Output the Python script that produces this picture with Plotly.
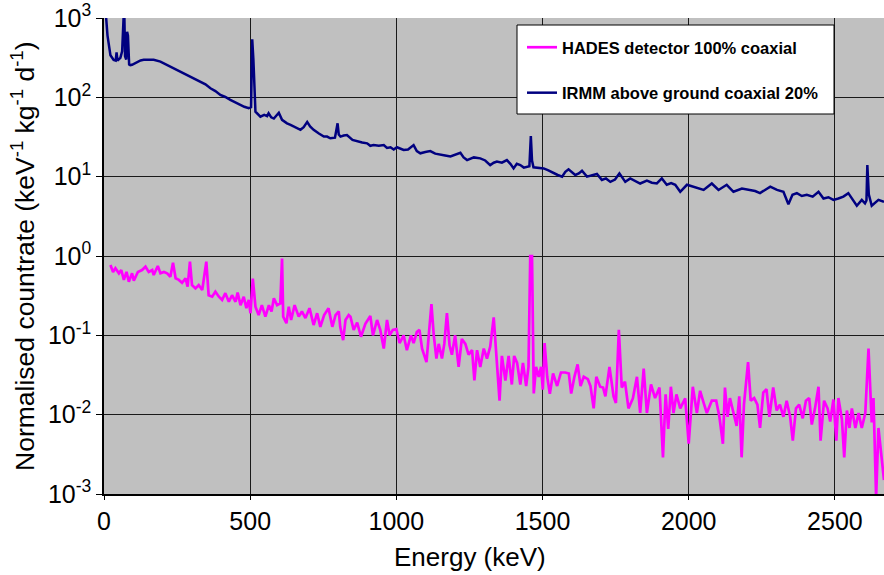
import plotly.graph_objects as go

# ---------------- data ----------------
irmm_energy = [5, 12, 22, 33, 40, 43, 46, 56, 62, 66, 69, 72, 76, 79, 82, 86, 90, 96,
               110, 125, 136, 150, 170, 193, 210, 227, 245, 262, 280, 296, 313, 330,
               347, 364, 381, 398, 415, 432, 450, 467, 480, 495, 503, 507, 511, 518,
               535, 548, 558, 563, 572, 581, 590, 598, 609, 626, 638, 649, 660, 672,
               683, 695, 705, 717, 735, 752, 763, 774, 790, 799, 803, 809, 820, 831,
               850, 866, 883, 900, 911, 922, 940, 957, 968, 980, 991, 1002, 1013,
               1025, 1040, 1059, 1070, 1082, 1099, 1116, 1133, 1150, 1167, 1185,
               1202, 1219, 1230, 1242, 1265, 1287, 1304, 1321, 1333, 1344, 1361,
               1378, 1390, 1401, 1412, 1424, 1436, 1447, 1455, 1460, 1464, 1469,
               1486, 1504, 1520, 1538, 1552, 1567, 1578, 1589, 1600, 1612, 1624,
               1635, 1652, 1669, 1686, 1703, 1717, 1732, 1748, 1763, 1783, 1800,
               1817, 1834, 1857, 1874, 1891, 1908, 1925, 1940, 1954, 1971, 1994,
               2016, 2033, 2051, 2079, 2102, 2130, 2153, 2182, 2210, 2227, 2244,
               2279, 2302, 2324, 2341, 2355, 2370, 2387, 2404, 2424, 2444, 2461,
               2478, 2495, 2512, 2529, 2546, 2575, 2592, 2603, 2608, 2611, 2616,
               2626, 2649, 2668]
irmm_rate = [1300, 600, 340, 296, 290, 370, 290, 315, 380, 1500, 1500, 330, 300, 670,
             600, 260, 255, 257, 275, 292, 297, 298, 297, 282, 262, 244, 228, 211,
             195, 182, 170, 158, 146, 130, 120, 107, 101, 93, 86, 80, 76, 73, 75,
             540, 300, 66, 57, 60, 58, 63, 56, 54, 60, 64, 52, 47, 45, 43, 41, 39,
             42, 49, 43, 39, 35, 32, 32, 30.5, 31, 47, 34, 32, 33, 33.5, 29, 27.7,
             27, 26.3, 24.5, 25, 24.5, 25, 23, 23.5, 22, 23.5, 22.5, 21.7, 22, 25,
             21, 19.7, 20.5, 21, 19.5, 18.8, 18.5, 18, 19, 20, 17.5, 16.2, 17.5,
             17, 16, 14, 15, 15.5, 15, 16.2, 14.5, 12.7, 14.5, 14, 13, 13.4, 13.5,
             32.6, 16, 13.1, 13, 12.7, 12, 11, 10.5, 10, 11.5, 12.4, 11.5, 10.5,
             11, 11.9, 10, 10.5, 10.8, 9.1, 9.5, 8.6, 9.2, 11, 8.6, 9.5, 8.8, 8.2,
             8.9, 8.4, 8.2, 9.5, 7.9, 8.3, 7.9, 6.45, 7.9, 7.5, 7.2, 6.8, 8.2, 6.8,
             7.9, 6.45, 7.1, 6.8, 6.6, 6.2, 7.5, 6.8, 6.45, 4.5, 5.9, 6.2, 5.7,
             5.9, 5.6, 6.45, 5.3, 5.5, 5.1, 5.3, 5.6, 6.2, 4.3, 5.1, 4.6, 5, 14,
             6, 4.3, 5.1, 4.8]

hades_energy = [22, 31, 39, 51, 59, 68, 77, 85, 96, 102, 116, 130, 142, 153, 165, 170,
                184, 193, 205, 216, 227, 236, 245, 256, 267, 279, 286, 294, 301, 313,
                324, 336, 350, 358, 370, 381, 393, 404, 415, 427, 438, 450, 457, 467,
                478, 487, 495, 501, 509, 518, 529, 540, 552, 564, 573, 581, 592, 603,
                609, 613, 624, 632, 640, 652, 666, 677, 689, 703, 717, 729, 740, 753,
                768, 781, 792, 803, 808, 818, 826, 837, 843, 854, 866, 879, 894, 911,
                920, 934, 945, 957, 968, 977, 988, 1000, 1011, 1025, 1036, 1050, 1059,
                1070, 1079, 1088, 1103, 1111, 1120, 1128, 1137, 1145, 1156, 1164,
                1173, 1182, 1190, 1201, 1213, 1224, 1236, 1247, 1259, 1267, 1276,
                1287, 1299, 1310, 1321, 1333, 1342, 1353, 1361, 1373, 1384, 1395,
                1403, 1413, 1424, 1433, 1444, 1452, 1458, 1464, 1470, 1478, 1487,
                1495, 1501, 1507, 1516, 1525, 1536, 1550, 1563, 1578, 1590, 1598,
                1609, 1620, 1630, 1641, 1655, 1664, 1675, 1684, 1697, 1707, 1715,
                1729, 1743, 1751, 1761, 1771, 1782, 1794, 1809, 1823, 1834, 1846,
                1857, 1871, 1885, 1900, 1912, 1921, 1930, 1939, 1948, 1958, 1971,
                1988, 2000, 2014, 2028, 2039, 2053, 2062, 2079, 2094, 2105, 2117,
                2124, 2133, 2141, 2153, 2164, 2173, 2181, 2189, 2203, 2212, 2224,
                2235, 2244, 2255, 2266, 2276, 2289, 2301, 2312, 2324, 2335, 2347,
                2356, 2367, 2378, 2390, 2401, 2412, 2421, 2432, 2444, 2451, 2463,
                2475, 2484, 2495, 2505, 2512, 2524, 2532, 2541, 2550, 2558, 2570,
                2581, 2592, 2604, 2615, 2626, 2632, 2641, 2649, 2661, 2668]
hades_rate = [0.77, 0.63, 0.70, 0.605, 0.666, 0.50, 0.63, 0.475, 0.605, 0.49, 0.63,
              0.666, 0.733, 0.63, 0.666, 0.576, 0.748, 0.605, 0.63, 0.605, 0.548,
              0.82, 0.523, 0.50, 0.46, 0.523, 0.41, 0.85, 0.43, 0.39, 0.43, 0.373,
              0.85, 0.32, 0.307, 0.355, 0.307, 0.279, 0.34, 0.265, 0.32, 0.265,
              0.345, 0.24, 0.307, 0.22, 0.28, 0.19, 0.52, 0.23, 0.18, 0.24, 0.172,
              0.24, 0.2, 0.293, 0.24, 0.253, 0.93, 0.172, 0.142, 0.23, 0.156, 0.24,
              0.172, 0.2, 0.165, 0.22, 0.135, 0.19, 0.128, 0.18, 0.22, 0.128, 0.18,
              0.2, 0.128, 0.087, 0.156, 0.18, 0.172, 0.117, 0.145, 0.096, 0.14,
              0.175, 0.1, 0.156, 0.117, 0.068, 0.156, 0.1, 0.117, 0.12, 0.08, 0.1,
              0.065, 0.1, 0.08, 0.11, 0.117, 0.068, 0.046, 0.11, 0.248, 0.1, 0.051,
              0.078, 0.051, 0.078, 0.19, 0.075, 0.057, 0.1, 0.04, 0.09, 0.078,
              0.057, 0.065, 0.027, 0.065, 0.04, 0.068, 0.051, 0.072, 0.168, 0.057,
              0.015, 0.055, 0.027, 0.055, 0.024, 0.055, 0.045, 0.024, 0.045, 0.023,
              0.04, 1.0, 1.0, 0.0185, 0.04, 0.03, 0.04, 0.0206, 0.08, 0.03, 0.0183,
              0.033, 0.023, 0.034, 0.034, 0.033, 0.0185, 0.03, 0.043, 0.023, 0.03,
              0.028, 0.023, 0.012, 0.03, 0.0225, 0.022, 0.017, 0.04, 0.017, 0.014,
              0.117, 0.022, 0.026, 0.012, 0.016, 0.030, 0.0105, 0.038, 0.0105,
              0.024, 0.0162, 0.022, 0.0029, 0.018, 0.0066, 0.0225, 0.0105, 0.018,
              0.012, 0.016, 0.0043, 0.0225, 0.0105, 0.02, 0.0134, 0.0105, 0.015,
              0.015, 0.0094, 0.0043, 0.022, 0.0094, 0.0162, 0.0105, 0.0072, 0.017,
              0.0029, 0.0134, 0.046, 0.015, 0.0162, 0.0134, 0.0068, 0.019, 0.021,
              0.0094, 0.022, 0.0113, 0.0134, 0.0094, 0.015, 0.0094, 0.0047, 0.012,
              0.0134, 0.009, 0.015, 0.0162, 0.0075, 0.012, 0.0225, 0.0047, 0.015,
              0.012, 0.0082, 0.0155, 0.0047, 0.0162, 0.0087, 0.0029, 0.0113,
              0.0068, 0.012, 0.0068, 0.0105, 0.0068, 0.0105, 0.068, 0.008, 0.0162,
              0.0009, 0.0068, 0.0029, 0.0015]

x_ticks = [0, 500, 1000, 1500, 2000, 2500]
y_ticks = [1e-3, 1e-2, 1e-1, 1e0, 1e1, 1e2, 1e3]
y_ticktext = ["10<sup>-3</sup>", "10<sup>-2</sup>", "10<sup>-1</sup>", "10<sup>0</sup>",
              "10<sup>1</sup>", "10<sup>2</sup>", "10<sup>3</sup>"]

FONT = "Liberation Sans, Arial, sans-serif"

fig = go.Figure()
fig.add_trace(go.Scatter(x=hades_energy, y=hades_rate, mode="lines",
                         name="HADES detector 100% coaxial", legendgroup="a",
                         line=dict(color="#FF00FF", width=2.7)))
fig.add_trace(go.Scatter(x=irmm_energy, y=irmm_rate, mode="lines",
                         name="IRMM above ground coaxial 20%", legendgroup="b",
                         line=dict(color="#000080", width=2.5)))

W, H = 884, 575
L, R, T, B = 104, 0, 18, 81
pw, ph = W - L - R, H - T - B

def px(x):
    return (x - L) / pw

def py(y):
    return (H - B - y) / ph

fig.update_layout(
    width=W, height=H, autosize=False,
    margin=dict(l=L, r=R, t=T, b=B, pad=0),
    paper_bgcolor="white", plot_bgcolor="#C0C0C0",
    font=dict(family=FONT, color="black"),
    showlegend=True,
    legend=dict(x=px(522), y=py(30), xanchor="left", yanchor="top",
                bgcolor="rgba(0,0,0,0)", borderwidth=0,
                font=dict(family=FONT, size=16.5, color="black", weight="bold"),
                traceorder="grouped", tracegroupgap=21),
    xaxis=dict(range=[0, 2668], tickvals=x_ticks, ticks="outside", ticklen=4,
               tickcolor="black", showgrid=True, gridcolor="#1a1a1a", gridwidth=1,
               showline=True, linecolor="black", linewidth=1.5, zeroline=False,
               tickfont=dict(size=25, family=FONT)),
    yaxis=dict(type="log", range=[-3, 3], tickvals=y_ticks, ticktext=y_ticktext,
               ticks="outside", ticklen=6, tickcolor="black", showgrid=True,
               gridcolor="#1a1a1a", gridwidth=1, showline=True, linecolor="black",
               linewidth=1.5, zeroline=False, tickfont=dict(size=25, family=FONT)),
    shapes=[dict(type="rect", xref="paper", yref="paper",
                 x0=px(517), x1=px(834), y0=py(114), y1=py(25),
                 fillcolor="white", line=dict(color="black", width=1), layer="above")],
    annotations=[
        dict(text="Energy (keV)", xref="paper", yref="paper", x=px(470), y=py(557),
             xanchor="center", yanchor="middle", showarrow=False,
             font=dict(size=26, family=FONT)),
        dict(text="Normalised countrate (keV<sup>-1</sup> kg<sup>-1</sup> d<sup>-1</sup>)",
             xref="paper", yref="paper", x=px(23), y=py(257), xanchor="center",
             yanchor="middle", textangle=-90, showarrow=False,
             font=dict(size=26.5, family=FONT)),
    ],
)

fig.write_html("out.html")
